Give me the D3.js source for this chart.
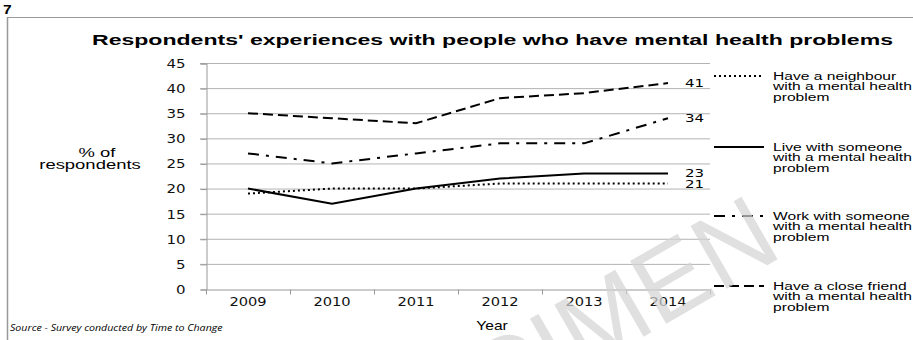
<!DOCTYPE html>
<html>
<head>
<meta charset="utf-8">
<script src="https://cdn.jsdelivr.net/npm/d3@7"></script>
<style>
  body { margin: 0; background: #fff; }
  svg { display: block; }
</style>
</head>
<body>
<script>
const W = 913, H = 340;

// data
const years = ["2009", "2010", "2011", "2012", "2013", "2014"];
const neighbour = [19, 20, 20, 21, 21, 21];
const liveWith = [20, 17, 20, 22, 23, 23];
const workWith = [27, 25, 27, 29, 29, 34];
const closeFriend = [35, 34, 33, 38, 39, 41];
const yTicks = [0, 5, 10, 15, 20, 25, 30, 35, 40, 45];

const seriesNames = [
  ["Have a neighbour", "with a mental health", "problem"],
  ["Live with someone", "with a mental health", "problem"],
  ["Work with someone", "with a mental health", "problem"],
  ["Have a close friend", "with a mental health", "problem"]
];
const seriesValues = [neighbour, liveWith, workWith, closeFriend];
const dashes = ["2,3", null, "11,7,3,7", "10,5"];

const SANS = "Liberation Sans, Arial, sans-serif";
const WIDE = "DejaVu Sans, Verdana, sans-serif";
const SX = 1.42; // the original print is stretched sideways

const svg = d3.select("body").append("svg")
  .attr("width", W)
  .attr("height", H);

// text placed at x,y and stretched horizontally by sx
const stretched = (x, y, sx) => svg.append("g")
  .attr("transform", `translate(${x},${y}) scale(${sx},1)`)
  .append("text");

// page frame
svg.append("line").attr("x1", 7).attr("x2", W).attr("y1", 17.5).attr("y2", 17.5)
  .attr("stroke", "#999").attr("stroke-width", 1);
svg.append("line").attr("x1", 7.5).attr("x2", 7.5).attr("y1", 17).attr("y2", H)
  .attr("stroke", "#999").attr("stroke-width", 1.5);
stretched(3, 14, 1.2)
  .style("font-family", SANS)
  .style("font-weight", "bold").style("font-size", "13px")
  .text("7");

const plotL = 206, plotR = 710, plotT = 63, plotB = 289;

const x = d3.scaleBand().domain(years).range([plotL, plotR]);
const y = d3.scaleLinear().domain([0, 45]).range([plotB, plotT]);

// gridlines
svg.append("g")
  .selectAll("line")
  .data(yTicks.slice(1))
  .join("line")
  .attr("x1", plotL - 6).attr("x2", plotR)
  .attr("y1", d => y(d) + 0.5).attr("y2", d => y(d) + 0.5)
  .attr("stroke", "#b3b3b3");

// y axis
const yAxis = svg.append("g")
  .attr("transform", `translate(${plotL + 0.5},0.5)`)
  .call(d3.axisLeft(y).tickValues(yTicks).tickSize(6).tickPadding(10.8));
yAxis.select(".domain").attr("stroke", "#999");
yAxis.selectAll(".tick line").attr("stroke", "#999");
yAxis.selectAll("text")
  .attr("transform", "scale(1.25,1)")
  .style("font-family", WIDE)
  .style("font-size", "12px")
  .attr("fill", "#111");

// x axis
const xAxis = svg.append("g")
  .attr("transform", `translate(0,${plotB + 0.5})`)
  .call(d3.axisBottom(x).tickSize(0).tickPadding(8));
xAxis.select(".domain").attr("stroke", "#999");
xAxis.selectAll(".tick text")
  .attr("transform", "scale(1.22,1)")
  .style("font-family", WIDE)
  .style("font-size", "12px")
  .attr("fill", "#111");
xAxis.append("g")
  .selectAll("line")
  .data(years.concat(["end"]))
  .join("line")
  .attr("x1", (d, i) => plotL + i * x.step() + 0.5)
  .attr("x2", (d, i) => plotL + i * x.step() + 0.5)
  .attr("y1", 0).attr("y2", 5)
  .attr("stroke", "#999");

// lines
const line = d3.line()
  .x((d, i) => x(years[i]) + x.bandwidth() / 2)
  .y(d => y(d));

svg.append("g")
  .selectAll("path")
  .data(seriesValues)
  .join("path")
  .attr("d", line)
  .attr("fill", "none")
  .attr("stroke", "#000")
  .attr("stroke-width", 2)
  .attr("stroke-dasharray", (d, i) => dashes[i]);

// end labels
seriesValues.forEach(v => {
  stretched(x(years[5]) + x.bandwidth() / 2 + 17, y(v[5]) + 4, 1.36)
    .style("font-family", WIDE)
    .style("font-size", "11px")
    .text(v[5]);
});

// titles
svg.append("text")
  .attr("x", 92).attr("y", 45)
  .attr("textLength", 801)
  .attr("lengthAdjust", "spacingAndGlyphs")
  .style("font-family", SANS)
  .style("font-weight", "bold")
  .style("font-size", "15px")
  .text("Respondents' experiences with people who have mental health problems");

stretched(97, 157, SX)
  .attr("text-anchor", "middle")
  .style("font-family", SANS)
  .style("font-size", "13px")
  .text("% of");
stretched(90, 169, SX)
  .attr("text-anchor", "middle")
  .style("font-family", SANS)
  .style("font-size", "13px")
  .text("respondents");

stretched(492, 330, 1.2)
  .attr("text-anchor", "middle")
  .style("font-family", SANS)
  .style("font-size", "13px")
  .text("Year");

stretched(10, 331, 1.12)
  .style("font-family", "Open Sans, DejaVu Sans, sans-serif")
  .style("font-style", "italic")
  .style("font-size", "9.5px")
  .text("Source - Survey conducted by Time to Change");

// legend
const legendY = [76, 147, 216, 286];
seriesNames.forEach((lines, i) => {
  svg.append("line")
    .attr("x1", 714).attr("x2", 764)
    .attr("y1", legendY[i]).attr("y2", legendY[i])
    .attr("stroke", "#000")
    .attr("stroke-width", 2)
    .attr("stroke-dasharray", dashes[i]);
  stretched(773, legendY[i] + 4, SX)
    .style("font-family", SANS)
    .style("font-size", "11px")
    .selectAll("tspan")
    .data(lines)
    .join("tspan")
    .attr("x", 0)
    .attr("y", (d, j) => j * 10.5)
    .text(d => d);
});

// watermark, only its tail shows on the page
svg.append("text")
  .attr("transform", "translate(785,255) rotate(-30)")
  .attr("text-anchor", "end")
  .style("font-family", SANS)
  .style("font-size", "105px")
  .style("fill", "#d4d4d4")
  .style("opacity", 0.7)
  .text("SPECIMEN");
</script>
</body>
</html>
